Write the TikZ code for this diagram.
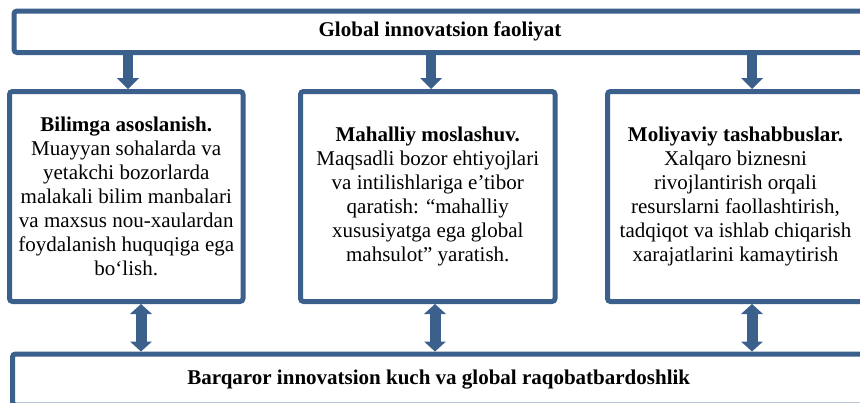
\documentclass[tikz,border=0pt]{standalone}
\usepackage{fontspec}
\setmainfont{Liberation Serif}
\usepackage{tikz}
\usetikzlibrary{arrows.meta, calc}
\definecolor{boxblue}{RGB}{60,96,140}
\tikzstyle{headbox} = [rectangle, rounded corners=3pt, draw=boxblue, line width=5pt, minimum width=852pt, minimum height=41.5pt, text centered, font=\fontsize{21}{24}\selectfont\bfseries]
\tikzstyle{infobox} = [rectangle, rounded corners=3pt, draw=boxblue, line width=5pt, minimum height=210pt, align=center, font=\fontsize{21}{24}\selectfont]
\tikzstyle{downarrow} = [draw=boxblue, line width=10pt, -{Triangle[width=22pt,length=11pt,line width=0pt]}]
\tikzstyle{botharrow} = [draw=boxblue, line width=11pt, {Triangle[width=22pt,length=10pt,line width=0pt]}-{Triangle[width=22pt,length=10pt,line width=0pt]}]

\begin{document}
\begin{tikzpicture}[x=1pt, y=-1pt]
    \useasboundingbox (0,0) rectangle (860,402);
    \clip (0,0) rectangle (860,402);

    \node (global) [headbox] at (440,31.75) {Global innovatsion faoliyat};

    \node (bilim) [infobox, minimum width=233.5pt] at (126.25,196.5) {\textbf{Bilimga asoslanish.}\\ Muayyan sohalarda va\\ yetakchi bozorlarda\\ malakali bilim manbalari\\ va maxsus nou-xaulardan\\ foydalanish huquqiga ega\\ bo‘lish.};
    \node (mahalliy) [infobox, minimum width=254.5pt] at (427.75,196.5) {\textbf{Mahalliy moslashuv.}\\ Maqsadli bozor ehtiyojlari\\ va intilishlariga e’tibor\\ qaratish: “mahalliy\\ xususiyatga ega global\\ mahsulot” yaratish.};
    \node (moliya) [infobox, minimum width=256pt] at (735.5,196.5) {\textbf{Moliyaviy tashabbuslar.}\\ Xalqaro biznesni\\ rivojlantirish orqali\\ resurslarni faollashtirish,\\ tadqiqot va ishlab chiqarish\\ xarajatlarini kamaytirish};

    \node (barqaror) [headbox, minimum width=852.5pt, minimum height=51pt] at (438.75,379.5) {Barqaror innovatsion kuch va global raqobatbardoshlik};

    \draw [downarrow] ($(bilim.north |- global.south)+(1.75,0)$) -- ($(bilim.north)+(1.75,0)$);
    \draw [downarrow] ($(mahalliy.north |- global.south)+(3.25,0)$) -- ($(mahalliy.north)+(3.25,0)$);
    \draw [downarrow] ($(moliya.north |- global.south)+(16.5,0)$) -- ($(moliya.north)+(16.5,0)$);

    \draw [botharrow] ($(bilim.south)+(14.75,0)$) -- ($(bilim.south |- barqaror.north)+(14.75,0)$);
    \draw [botharrow] ($(mahalliy.south)+(7.25,0)$) -- ($(mahalliy.south |- barqaror.north)+(7.25,0)$);
    \draw [botharrow] ($(moliya.south)+(16.5,0)$) -- ($(moliya.south |- barqaror.north)+(16.5,0)$);
\end{tikzpicture}
\end{document}
